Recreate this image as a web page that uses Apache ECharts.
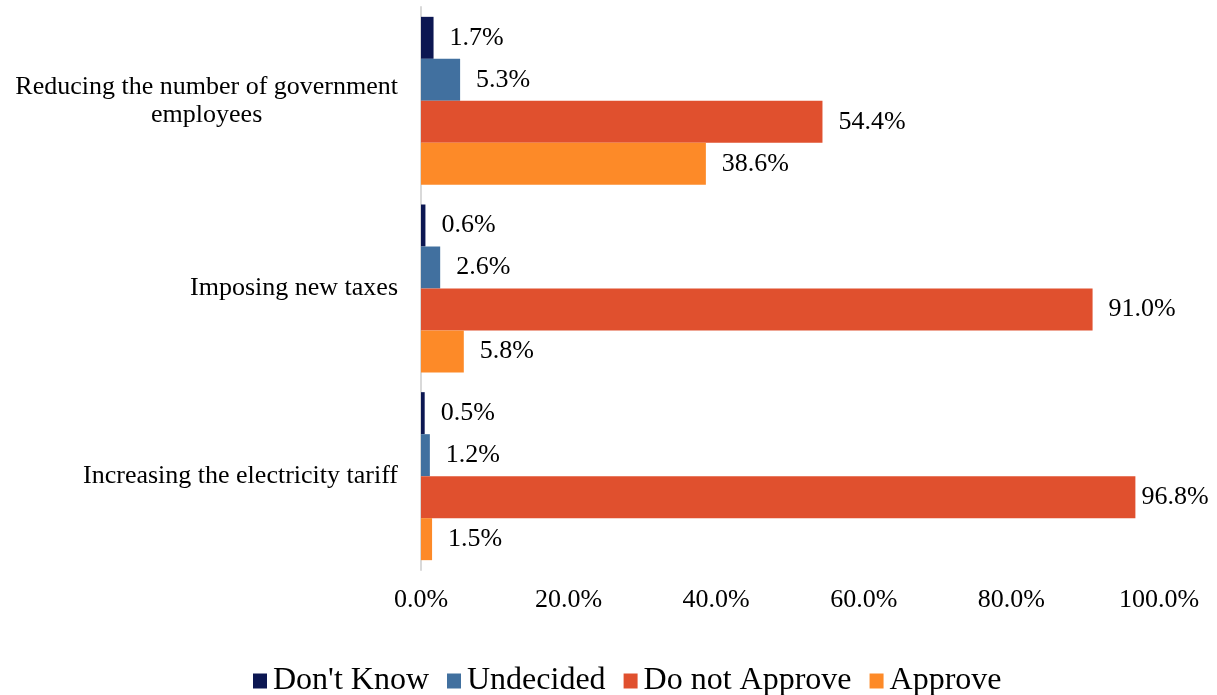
<!DOCTYPE html>
<html>
<head>
<meta charset="utf-8">
<script src="https://cdn.jsdelivr.net/npm/echarts@6/dist/echarts.min.js"></script>
<style>
  html, body { margin: 0; padding: 0; background: #fff; }
  #chart { width: 1217px; height: 695px; }
</style>
</head>
<body>
<div id="chart"></div>
<script>
// Survey: opinion on austerity measures (share of respondents)
const categories = [
  'Reducing the number of government employees',
  'Imposing new taxes',
  'Increasing the electricity tariff'
];
const seriesNames = ["Don't Know", 'Undecided', 'Do not Approve', 'Approve'];
const dontKnow = [1.7, 0.6, 0.5];
const undecided = [5.3, 2.6, 1.2];
const doNotApprove = [54.4, 91.0, 96.8];
const approve = [38.6, 5.8, 1.5];
const xTicks = [0, 20, 40, 60, 80, 100];

const colors = ['#0c1752', '#41709f', '#e0502e', '#fd8a28'];
const FONT = '"Liberation Serif", "Times New Roman", serif';

const chart = echarts.init(document.getElementById('chart'));

function pct(v) { return Number(v).toFixed(1) + '%'; }

function makeSeries(name, values, color) {
  return {
    name: name,
    type: 'bar',
    barWidth: 42,
    barGap: '0%',
    itemStyle: { color: color },
    label: {
      show: true,
      position: 'right',
      distance: 16,
      color: '#000',
      fontFamily: FONT,
      fontSize: 26,
      formatter: p => pct(p.value)
    },
    // long bars near the axis end keep their label closer
    data: values.map(v => v > 95 ? { value: v, label: { distance: 6 } } : v)
  };
}

chart.setOption({
  animation: false,
  color: colors,
  textStyle: { fontFamily: FONT },
  grid: { left: 421, right: 58, top: 7, bottom: 125, containLabel: false },
  legend: {
    data: seriesNames,
    top: 660,
    left: 248,
    icon: 'rect',
    itemWidth: 14,
    itemHeight: 15,
    itemGap: 18,
    textStyle: { fontFamily: FONT, fontSize: 32, color: '#000', padding: [0, 0, 0, 1] }
  },
  xAxis: {
    type: 'value',
    min: xTicks[0],
    max: xTicks[xTicks.length - 1],
    interval: xTicks[1] - xTicks[0],
    axisLine: { show: false },
    axisTick: { show: false },
    splitLine: { show: false },
    axisLabel: {
      color: '#000',
      fontFamily: FONT,
      fontSize: 26,
      margin: 17,
      formatter: v => pct(v)
    }
  },
  yAxis: {
    type: 'category',
    inverse: true,
    data: categories,
    axisLine: { show: true, lineStyle: { color: '#d9d9d9', width: 2 } },
    axisTick: { show: false },
    splitLine: { show: false },
    axisLabel: {
      color: '#000',
      fontFamily: FONT,
      fontSize: 26,
      margin: 23,
      lineHeight: 28,
      formatter: function (v) {
        if (v === categories[0]) {
          return '{c|Reducing the number of government}\n{c|employees}';
        }
        return v;
      },
      rich: {
        c: { align: 'center', fontFamily: FONT, fontSize: 26, lineHeight: 28, color: '#000' }
      }
    }
  },
  series: [
    makeSeries(seriesNames[0], dontKnow, colors[0]),
    makeSeries(seriesNames[1], undecided, colors[1]),
    makeSeries(seriesNames[2], doNotApprove, colors[2]),
    makeSeries(seriesNames[3], approve, colors[3])
  ]
});
</script>
</body>
</html>
